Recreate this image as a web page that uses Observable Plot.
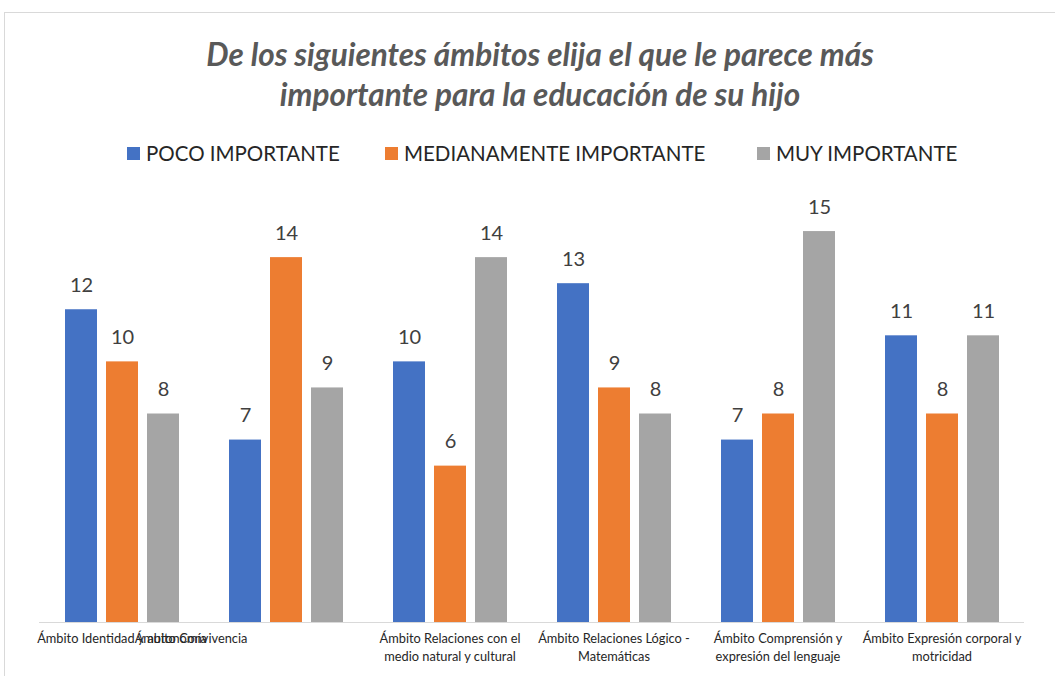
<!DOCTYPE html>
<html>
<head>
<meta charset="utf-8">
<script src="https://cdn.jsdelivr.net/npm/d3@7"></script>
<script src="https://cdn.jsdelivr.net/npm/@observablehq/plot@0.6"></script>
<style>
  body { margin: 0; background: #fff; font-family: Lato, "Open Sans", sans-serif; }
  #frame { position: absolute; left: 4px; top: 12px; width: 1060px; height: 700px; border: 1px solid #d9d9d9; box-sizing: border-box; }
  #title { position: absolute; left: 0; top: 34px; width: 1080px; text-align: center; font-weight: bold; font-style: italic; font-size: 31.5px; line-height: 40px; color: #595959; }
  #legend { position: absolute; top: 140px; left: 0; width: 1055px; height: 26px; }
  .item { position: absolute; top: 0; display: flex; align-items: center; font-size: 20.5px; color: #262626; white-space: nowrap; line-height: 26px; }
  .sw { width: 13px; height: 13px; margin-right: 6px; }
  #chart { position: absolute; left: 0; top: 180px; }
</style>
</head>
<body>
<div id="frame"></div>
<div id="title">De los siguientes ámbitos elija el que le parece más<br>importante para la educación de su hijo</div>
<div id="legend"></div>
<div id="chart"></div>
<script>
const categories = [
  "Ámbito Identidad y autonomía",
  "Ámbito Convivencia",
  "Ámbito Relaciones con el\nmedio natural y cultural",
  "Ámbito Relaciones Lógico -\nMatemáticas",
  "Ámbito Comprensión y\nexpresión del lenguaje",
  "Ámbito Expresión corporal y\nmotricidad"
];
const series = ["POCO IMPORTANTE", "MEDIANAMENTE IMPORTANTE", "MUY IMPORTANTE"];
const colors = ["#4472C4", "#ED7D31", "#A5A5A5"];
const poco = [12, 7, 10, 13, 7, 11];
const mediana = [10, 14, 6, 9, 8, 8];
const muy = [8, 9, 14, 8, 15, 11];

const values = [poco, mediana, muy];
const rows = [];
categories.forEach((c, i) => series.forEach((s, j) => rows.push({cat: c, serie: s, value: values[j][i]})));

// Legend
const legendLeft = [127, 385, 757];
const legend = document.getElementById("legend");
series.forEach((s, j) => {
  const it = document.createElement("div");
  it.className = "item";
  it.style.left = legendLeft[j] + "px";
  it.innerHTML = `<span class="sw" style="background:${colors[j]}"></span><span>${s}</span>`;
  legend.appendChild(it);
});

const shifted = "Ámbito Convivencia";
const labelStyle = {frameAnchor: "bottom", lineAnchor: "top", dy: 8, fontSize: 12.8, lineHeight: 1.4, fill: "#262626"};
const chart = Plot.plot({
  width: 1055,
  height: 492,
  marginLeft: 38,
  marginRight: 31,
  marginTop: 25,
  marginBottom: 50,
  style: {fontFamily: "Lato, 'Open Sans', sans-serif", background: "transparent"},
  fx: {domain: categories, paddingInner: 0.25, paddingOuter: 0.125, axis: null},
  x: {domain: series, paddingInner: 0.22, paddingOuter: 0.11, axis: null},
  y: {domain: [0, 16], axis: null},
  color: {domain: series, range: colors},
  marks: [
    Plot.barY(rows, {fx: "cat", x: "serie", y: "value", fill: "serie"}),
    Plot.ruleY([0], {stroke: "#d9d9d9", strokeWidth: 1, insetLeft: -21, insetRight: -21}),
    Plot.text(rows, {fx: "cat", x: "serie", y: "value", text: d => String(d.value), lineAnchor: "bottom", dy: -18, fontSize: 20, fill: "#404040"}),
    Plot.text(categories.filter(c => c !== shifted), {fx: d => d, text: d => d, ...labelStyle}),
    Plot.text([shifted], {fx: d => d, text: d => d, dx: -95, ...labelStyle})
  ]
});
document.getElementById("chart").appendChild(chart);
</script>
</body>
</html>
